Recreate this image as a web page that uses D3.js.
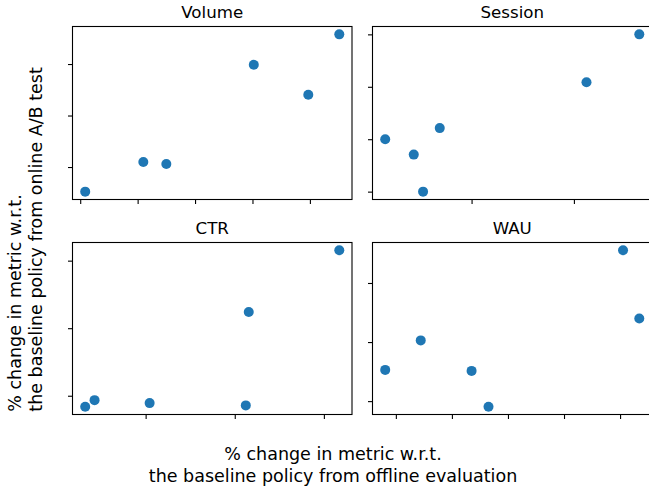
<!DOCTYPE html>
<html><head><meta charset="utf-8">
<script src="https://cdn.jsdelivr.net/npm/d3@7"></script>
<style>
html,body{margin:0;padding:0;background:#fff;}
svg{display:block;}
text{font-family:"DejaVu Sans",sans-serif;fill:#000;}
</style></head>
<body>
<script>
// Panel titles
const metrics = ["Volume", "Session", "CTR", "WAU"];
// Offline (x) and online (y) % changes, arbitrary tick units (no tick labels in source)
const volumeX  = [0.087, 1.099, 1.50, 3.023, 3.972, 4.512];
const volumeY  = [-0.478, 0.098, 0.059, 1.986, 1.402, 2.576];
const sessionX = [0.156, 0.435, 0.526, 0.689, 2.123, 2.639];
const sessionY = [1.0, 0.706, 0.0, 1.212, 2.088, 3.0];
const ctrX     = [0.322, 0.427, 1.045, 2.124, 2.157, 3.173];
const ctrY     = [-0.162, -0.065, -0.109, -0.143, 1.239, 2.153];
const wauX     = [-0.19, 0.444, 1.351, 1.653, 4.053, 4.343];
const wauY     = [0.529, 1.028, 0.512, -0.094, 2.553, 1.398];
// Tick positions (unlabeled)
const volumeXTicks  = [0, 1, 2, 3, 4];
const volumeYTicks  = [0, 1, 2];
const sessionXTicks = [1, 2];
const sessionYTicks = [0, 1, 2, 3];
const ctrXTicks     = [1, 2, 3];
const ctrYTicks     = [0, 1, 2];
const wauXTicks     = [0, 1, 2, 3, 4];
const wauYTicks     = [0, 1, 2];

const xLabelLines = ["% change in metric w.r.t.", "the baseline policy from offline evaluation"];
const yLabelLines = ["% change in metric w.r.t.", "the baseline policy from online A/B test"];

const W = 649, H = 493;
const svg = d3.select("body").append("svg").attr("width", W).attr("height", H);

const panels = [
  {title: metrics[0], xs: volumeX, ys: volumeY, xt: volumeXTicks, yt: volumeYTicks, x0: 72.5, y0: 26.5},
  {title: metrics[1], xs: sessionX, ys: sessionY, xt: sessionXTicks, yt: sessionYTicks, x0: 372.5, y0: 26.5},
  {title: metrics[2], xs: ctrX, ys: ctrY, xt: ctrXTicks, yt: ctrYTicks, x0: 72.5, y0: 242.5},
  {title: metrics[3], xs: wauX, ys: wauY, xt: wauXTicks, yt: wauYTicks, x0: 372.5, y0: 242.5},
];
const pw = 279.5, ph = [173, 172];

function padded(arr) {
  const [a, b] = d3.extent(arr);
  const m = (b - a) * 0.05;
  return [a - m, b + m];
}

panels.forEach((p, i) => {
  const h = ph[Math.floor(i / 2)];
  const g = svg.append("g").attr("transform", `translate(${p.x0},${p.y0})`);
  const x = d3.scaleLinear().domain(padded(p.xs)).range([0, pw]);
  const y = d3.scaleLinear().domain(padded(p.ys)).range([h, 0]);

  const xa = g.append("g").attr("transform", `translate(0,${h})`)
    .call(d3.axisBottom(x).tickValues(p.xt).tickSize(4.5).tickFormat(""));
  const ya = g.append("g")
    .call(d3.axisLeft(y).tickValues(p.yt).tickSize(4.5).tickFormat(""));
  [xa, ya].forEach(a => {
    a.select(".domain").remove();
    a.selectAll(".tick line").attr("stroke", "#000").attr("stroke-width", 1.1);
  });

  g.selectAll("circle").data(p.xs.map((v, k) => [v, p.ys[k]])).enter()
    .append("circle")
    .attr("cx", d => x(d[0])).attr("cy", d => y(d[1]))
    .attr("r", 5).attr("fill", "#1f77b4");

  g.append("rect").attr("x", 0).attr("y", 0).attr("width", pw).attr("height", h)
    .attr("fill", "none").attr("stroke", "#000").attr("stroke-width", 1.1);

  g.append("text").attr("x", pw / 2).attr("y", -8.5)
    .attr("text-anchor", "middle").attr("font-size", "16.67px").text(p.title);
});

// x label
svg.append("g").selectAll("text").data(xLabelLines).enter().append("text")
  .attr("x", 333).attr("y", (d, i) => 459.5 + i * 22)
  .attr("text-anchor", "middle").attr("font-size", "17.5px").text(d => d);

// y label
svg.append("g").selectAll("text").data(yLabelLines).enter().append("text")
  .attr("transform", (d, i) => `translate(${20.5 + i * 21.5},411.7) rotate(-90)`)
  .attr("text-anchor", "start").attr("font-size", "17.5px").text(d => d);
</script>
</body></html>
